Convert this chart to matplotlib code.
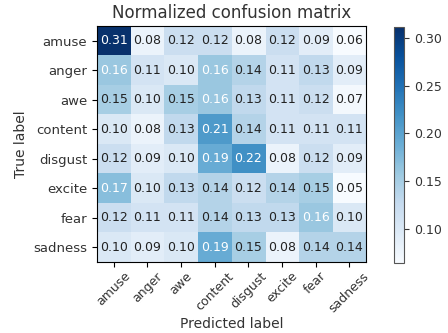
import numpy as np
import matplotlib
matplotlib.use('Agg')
import matplotlib.pyplot as plt

classes = ['amuse', 'anger', 'awe', 'content', 'disgust', 'excite', 'fear', 'sadness']

amuse = [0.31, 0.08, 0.12, 0.12, 0.08, 0.12, 0.09, 0.06]
anger = [0.16, 0.11, 0.10, 0.16, 0.14, 0.11, 0.13, 0.09]
awe = [0.15, 0.10, 0.15, 0.16, 0.13, 0.11, 0.12, 0.07]
content = [0.10, 0.08, 0.13, 0.21, 0.14, 0.11, 0.11, 0.11]
disgust = [0.12, 0.09, 0.10, 0.19, 0.22, 0.08, 0.12, 0.09]
excite = [0.17, 0.10, 0.13, 0.14, 0.12, 0.14, 0.15, 0.05]
fear = [0.12, 0.11, 0.11, 0.14, 0.13, 0.13, 0.16, 0.10]
sadness = [0.10, 0.09, 0.10, 0.19, 0.15, 0.08, 0.14, 0.14]

cm = np.array([amuse, anger, awe, content, disgust, excite, fear, sadness])

fig = plt.figure(figsize=(4.48, 3.33), dpi=100)
ax = fig.add_axes([97 / 448, 1 - 262 / 333, 269 / 448, 236 / 333])
cax = fig.add_axes([394 / 448, 1 - 263 / 333, 10 / 448, 236 / 333])

im = ax.imshow(cm, interpolation='nearest', cmap=plt.cm.Blues, aspect='auto')
im.set_clim(0.065, 0.311)
cb = fig.colorbar(im, cax=cax)
cb.set_ticks([0.10, 0.15, 0.20, 0.25, 0.30])
cb.ax.tick_params(labelsize=9, colors='#333333')
cb.outline.set_edgecolor('#555555')

ax.set_title('Normalized confusion matrix', fontsize=12, color='#333333')
ticks = np.arange(len(classes))
ax.set_xticks(ticks)
ax.set_xticklabels(classes, rotation=45, fontsize=9, color='#333333')
ax.set_yticks(ticks)
ax.set_yticklabels(classes, fontsize=9.5, color='#333333')
ax.tick_params(axis='x', pad=2)

thresh = cm.max() / 2.
for i in range(cm.shape[0]):
    for j in range(cm.shape[1]):
        ax.text(j, i, format(cm[i, j], '.2f'), ha='center', va='center',
                fontsize=9, color='white' if cm[i, j] > thresh else '#222222')

ax.set_ylabel('True label', fontsize=10, color='#333333')
ax.set_xlabel('Predicted label', fontsize=10, color='#333333')
ax.xaxis.set_label_coords(0.5, -0.235)

fig.savefig('out.png', dpi=100)
